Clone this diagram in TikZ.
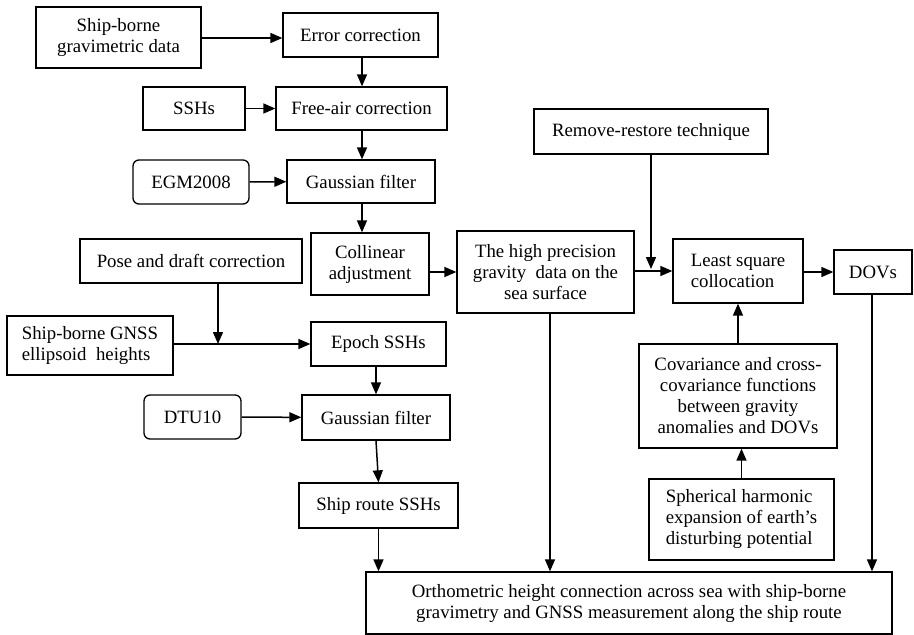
\documentclass[tikz,border=0pt]{standalone}
\usepackage{fontspec}
\setmainfont{Liberation Serif}
\usetikzlibrary{arrows.meta}
\begin{document}
\begin{tikzpicture}[x=1pt, y=-1pt, line width=1.5pt,
  box/.style={draw, line width=1.3pt, inner sep=2pt, align=center, font=\fontsize{18.8}{21}\selectfont},
  rbox/.style={box, rounded corners=6pt},
  flow/.style={-{Triangle[length=12pt, width=10pt]}}]
\useasboundingbox (0,0) rectangle (914,635);
% left column: gravimetric data
\node[box, minimum width=165, minimum height=61] (gravdata) at (118.5,37.5) {Ship-borne\\gravimetric data};
\node[box, minimum width=155, minimum height=44] (errcorr) at (360.5,35) {Error correction};
\node[box, minimum width=102, minimum height=43] (ssh) at (194,108.5) {SSHs};
\node[box, minimum width=171, minimum height=43] (freeair) at (361.5,108.5) {Free-air correction};
\node[rbox, minimum width=116, minimum height=44] (egm) at (191,182) {EGM2008};
\node[box, minimum width=148, minimum height=43] (gaussA) at (361,181.5) {Gaussian filter};
\node[box, minimum width=118, minimum height=62] (collinear) at (370,264) {Collinear\\adjustment};
% left column: GNSS data
\node[box, minimum width=222, minimum height=44] (pose) at (191,261) {Pose and draft correction};
\node[box, align=left, minimum width=166, minimum height=59] (gnss) at (90,345.5) {Ship-borne GNSS\\ellipsoid\ \ heights};
\node[box, minimum width=135, minimum height=44] (epoch) at (378.5,344) {Epoch SSHs};
\node[rbox, minimum width=97, minimum height=44] (dtu) at (192.5,417) {DTU10};
\node[box, minimum width=148, minimum height=45] (gaussB) at (376,417.5) {Gaussian filter};
\node[box, minimum width=159, minimum height=45] (route) at (378.5,505.5) {Ship route SSHs};
% right part
\node[box, minimum width=177, minimum height=82] (highprec) at (545.5,272) {The high precision\\gravity\ \ data on the\\sea surface};
\node[box, minimum width=234, minimum height=45] (remove) at (651,131.5) {Remove-restore technique};
\node[box, align=left, minimum width=130, minimum height=64] (lsc) at (738,271) {Least square\\collocation};
\node[box, minimum width=78, minimum height=44] (dovs) at (873,272) {DOVs};
\node[box, minimum width=198, minimum height=104] (cov) at (738,396) {Covariance and cross-\\covariance functions\\between gravity\\anomalies and DOVs};
\node[box, align=left, minimum width=185, minimum height=81] (sph) at (741.5,519.5) {Spherical harmonic\\expansion of earth's\\disturbing potential};
\node[box, minimum width=526, minimum height=62] (ortho) at (629,603) {Orthometric height connection across sea with ship-borne\\gravimetry and GNSS measurement along the ship route};
% connectors
\coordinate (posefoot) at (218,344);
\draw[flow] (gravdata.east |- 0,38) -- (errcorr.west |- 0,38);
\draw[flow] (errcorr.south -| 362,0) -- (freeair.north -| 362,0);
\draw[flow] (ssh) -- (freeair);
\draw[flow] (freeair.south -| 362,0) -- (gaussA.north -| 362,0);
\draw[flow] (egm) -- (gaussA);
\draw[flow] (gaussA.south -| 362,0) -- (collinear.north -| 362,0);
\draw[flow] (collinear.east |- highprec.east) -- (highprec.west);
\draw[flow] (highprec.east |- lsc.west) -- (lsc.west);
\draw[flow, shorten >=2pt] (remove.south) -- (remove.south |- lsc.west);
\draw[flow] (lsc.east |- dovs.west) -- (dovs.west);
\draw[flow] (cov.north) -- (lsc.south);
\draw[flow] (sph.north) -- (sph.north |- cov.south);
\draw[flow] (dovs.south -| 872,0) -- (ortho.north -| 872,0);
\draw[flow] (highprec.south -| 550,0) -- (ortho.north -| 550,0);
\draw[flow] (pose.south -| posefoot) -- (posefoot);
\draw[flow] (gnss.east |- epoch.west) -- (epoch.west);
\draw[flow] (epoch.south -| gaussB.north) -- (gaussB.north);
\draw[flow] (dtu) -- (gaussB);
\draw[flow] (gaussB.south) -- (route.north);
\draw[flow] (route.south) -- (route.south |- ortho.north);
\end{tikzpicture}
\end{document}
